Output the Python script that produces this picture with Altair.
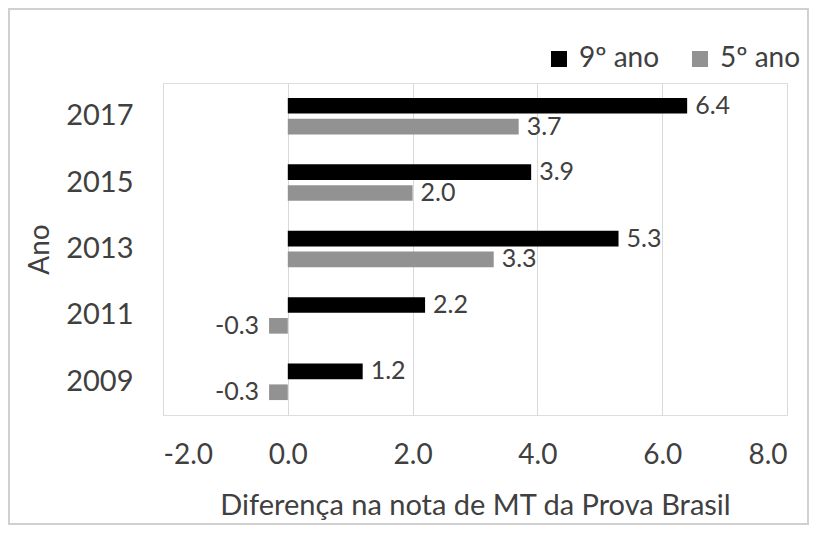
import altair as alt
import pandas as pd

years = ["2017", "2015", "2013", "2011", "2009"]
serie_9 = [6.4, 3.9, 5.3, 2.2, 1.2]
serie_5 = [3.7, 2.0, 3.3, -0.3, -0.3]
series_names = ["9º ano", "5º ano"]
colors = ["#000000", "#929292"]
x_ticks = [-2, 0, 2, 4, 6, 8]

rows = []
for i, y in enumerate(years):
    rows.append({"Ano": y, "Série": series_names[0], "Valor": serie_9[i]})
    rows.append({"Ano": y, "Série": series_names[1], "Valor": serie_5[i]})
df = pd.DataFrame(rows)

W, H = 624, 332
PL, PT, PR, PB = 155, 75, 22, 110
FONT = "Lato"
TXT = "#404040"

x_enc = alt.X(
    "Valor:Q",
    scale=alt.Scale(domain=[-2, 8], nice=False),
    axis=alt.Axis(
        values=x_ticks, format=".1f", labelExpr="replace(datum.label, '−', '-')",
        title="Diferença na nota de MT da Prova Brasil",
        grid=True, gridColor="#d9d9d9", domain=False, ticks=False, tickSize=0,
        labelFontSize=28, labelColor=TXT, labelPadding=40, labelBaseline="middle", labelFont=FONT,
        titleFontSize=29, titleColor=TXT, titleFont=FONT, titleFontWeight="normal",
        titleY=90, titleBaseline="middle",
    ),
)
y_enc = alt.Y(
    "Ano:N", sort=years,
    scale=alt.Scale(paddingInner=0.45, paddingOuter=0.225),
    axis=alt.Axis(
        title="Ano", domain=False, ticks=False, tickSize=0, grid=False,
        labelFontSize=29, labelColor=TXT, labelPadding=30, labelFont=FONT,
        titleFontSize=28, titleColor=TXT, titleFont=FONT, titleFontWeight="normal",
        titleX=-123, titleY=166, titleAngle=-90, titleBaseline="middle", titleAlign="center",
    ),
)
yoff = alt.YOffset("Série:N", sort=series_names, scale=alt.Scale(paddingInner=0.25, paddingOuter=0))
color = alt.Color(
    "Série:N", sort=series_names,
    scale=alt.Scale(domain=series_names, range=colors),
    legend=alt.Legend(
        title=None, orient="none", direction="horizontal", legendX=382, legendY=-38,
        symbolType="square", symbolSize=256, symbolStrokeWidth=0, labelFontSize=28,
        labelColor=TXT, labelFont=FONT, columnPadding=26, labelOffset=6,
    ),
)

bars = alt.Chart(df).mark_bar().encode(x=x_enc, x2=alt.datum(0), y=y_enc, yOffset=yoff, color=color)

text_base = alt.Chart(df).transform_calculate(
    rotulo="replace(format(datum.Valor, '.1f'), '−', '-')"
).encode(
    x=alt.X("Valor:Q"), y=alt.Y("Ano:N", sort=years), yOffset=yoff,
    text=alt.Text("rotulo:N"),
)
pos_text = text_base.transform_filter("datum.Valor >= 0").mark_text(
    align="left", baseline="middle", dx=8, fontSize=25, color=TXT, font=FONT
)
neg_text = text_base.transform_filter("datum.Valor < 0").mark_text(
    align="right", baseline="middle", dx=-10, fontSize=25, color=TXT, font=FONT
)

frame = alt.Chart(df).mark_rect(fill=None, stroke="#d0d0d0", strokeWidth=1.5).encode(
    x=alt.value(-PL + 1), x2=alt.value(W + PR - 1),
    y=alt.value(-PT + 1), y2=alt.value(H + PB - 1),
)

chart = alt.layer(frame, bars, pos_text, neg_text).properties(
    width=W, height=H,
    padding={"left": PL, "top": PT, "right": PR, "bottom": PB},
    autosize=alt.AutoSizeParams(type="none"),
).configure_view(stroke=None).configure(background="white")

chart.save("out.html", embed_options={"renderer": "svg", "actions": False})
